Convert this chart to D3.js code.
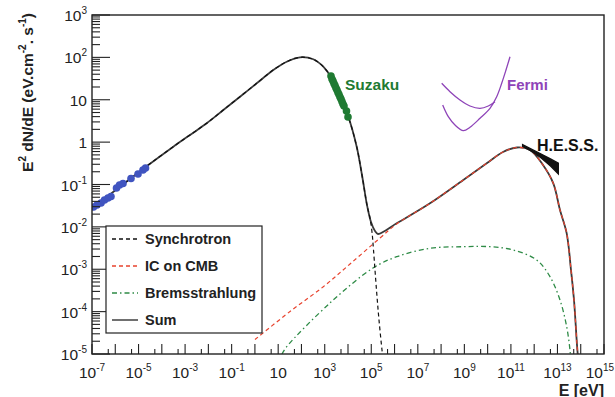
<!DOCTYPE html>
<html><head><meta charset="utf-8">
<script src="https://cdn.jsdelivr.net/npm/d3@7/dist/d3.min.js"></script>
<style>
html,body{margin:0;padding:0;background:#fff;}
svg{display:block;font-family:"Liberation Sans",Arial,Helvetica,sans-serif;}
</style></head>
<body>
<svg id="c" width="615" height="397"></svg>
<script>
// ---------- data (log10 E [eV], log10 E^2 dN/dE) ----------
const sumLogE = [-7.00,-4.723,-3.507,-2.789,-2.072,-1.358,-0.641,0.077,0.790,1.366,1.937,2.509,2.939,3.299,3.656,4.013,4.374,4.601,4.816,4.988,5.160,5.289,6.092,7.523,8.954,9.960,10.660,11.262,11.820,12.379,12.821,13.109,13.397,13.582,13.711,13.840,13.90];
const sumLogF = [-1.566,-0.599,-0.108,0.168,0.444,0.758,1.072,1.388,1.702,1.898,2.002,1.955,1.780,1.506,1.065,0.600,-0.108,-0.776,-1.484,-1.885,-2.097,-2.168,-1.916,-1.444,-0.894,-0.500,-0.233,-0.127,-0.186,-0.540,-0.972,-1.602,-2.152,-3.018,-3.726,-4.788,-5.2];

const synLogE = [-7.00,-4.723,-3.507,-2.789,-2.072,-1.358,-0.641,0.077,0.790,1.366,1.937,2.509,2.939,3.299,3.656,4.013,4.374,4.601,4.816,4.945,5.031,5.096,5.224,5.332,5.461,5.504];
const synLogF = [-1.566,-0.599,-0.108,0.168,0.444,0.758,1.072,1.388,1.702,1.898,2.002,1.955,1.780,1.506,1.065,0.600,-0.108,-0.776,-1.484,-1.791,-2.121,-2.546,-3.490,-4.198,-4.906,-5.094];

const icLogE = [0.004,1.508,2.939,4.086,5.375,6.092,7.523,8.954,9.960,10.660,11.262,11.820,12.379,12.821,13.109,13.397,13.582,13.711,13.840,13.90];
const icLogF = [-4.658,-3.997,-3.412,-2.876,-2.263,-1.932,-1.444,-0.894,-0.500,-0.233,-0.127,-0.186,-0.540,-0.972,-1.602,-2.152,-3.018,-3.726,-4.788,-5.2];

const brLogE = [1.164,1.366,3.226,5.074,6.092,7.523,8.954,10.101,11.102,12.108,12.680,13.109,13.397,13.539,13.56];
const brLogF = [-5.0,-4.828,-3.796,-2.971,-2.704,-2.506,-2.468,-2.468,-2.546,-2.782,-3.176,-3.726,-4.356,-4.906,-5.05];

const radioLogE = [-6.936,-6.785,-6.613,-6.463,-6.313,-6.184,-5.947,-5.818,-5.668,-5.324,-5.023,-4.809,-4.701];
const radioLogF = [-1.531,-1.484,-1.437,-1.366,-1.319,-1.283,-1.083,-1.012,-0.976,-0.858,-0.752,-0.658,-0.611];

const suzakuLogE = [3.269,3.312,3.355,3.398,3.441,3.484,3.527,3.570,3.613,3.656,3.699,3.742,3.785,3.828,3.935,4.000];
const suzakuLogF = [1.560,1.490,1.442,1.383,1.336,1.277,1.230,1.171,1.124,1.065,1.018,0.959,0.900,0.853,0.735,0.593];

const fermiALogE = [8.026,8.383,8.812,9.242,9.672,10.028,10.316];
const fermiALogF = [1.388,1.190,0.994,0.853,0.798,0.853,0.954];
const fermiBLogE = [8.069,8.310,8.597,8.954,9.242,9.672,10.101,10.389,10.604,10.789,10.961];
const fermiBLogF = [0.876,0.600,0.404,0.270,0.350,0.562,0.798,1.072,1.388,1.702,2.016];

const hessLogE = [11.50,11.90,12.30,12.70,13.04];
const hessUpLogF = [-0.056,-0.169,-0.283,-0.396,-0.493];
const hessLoLogF = [-0.103,-0.221,-0.375,-0.563,-0.752];

const yTickExp = [-5,-4,-3,-2,-1,0,1,2,3];
const xLabelExp = [-7,-5,-3,-1,1,3,5,7,9,11,13,15];
const legendItems = ["Synchrotron","IC on CMB","Bremsstrahlung","Sum"];

// ---------- scales ----------
const svg = d3.select("#c");
const X0=92, X1=604, Y0=15, Y1=354;
const xs = d3.scaleLog().domain([1e-7,1e15]).range([X0,X1]);
const ys = d3.scaleLog().domain([1e-5,1e3]).range([Y1,Y0]);
const P = (le,lf)=>le.map((e,i)=>[Math.pow(10,e),Math.pow(10,lf[i])]);

svg.append("clipPath").attr("id","plot").append("rect")
  .attr("x",X0).attr("y",Y0).attr("width",X1-X0).attr("height",Y1-Y0);

const lineC = d3.line().x(d=>xs(d[0])).y(d=>ys(d[1])).curve(d3.curveCatmullRom.alpha(0.5));
const g = svg.append("g").attr("clip-path","url(#plot)");

// curves
g.append("path").attr("d",lineC(P(sumLogE,sumLogF))).attr("fill","none")
  .attr("stroke","#3a3a3a").attr("stroke-width",1.8);
g.append("path").attr("d",lineC(P(brLogE,brLogF))).attr("fill","none")
  .attr("stroke","#2e8b46").attr("stroke-width",1.3).attr("stroke-dasharray","5,3,1.5,3");
g.append("path").attr("d",lineC(P(icLogE,icLogF))).attr("fill","none")
  .attr("stroke","#e8432e").attr("stroke-width",1.2).attr("stroke-dasharray","4,3");
g.append("path").attr("d",lineC(P(synLogE,synLogF))).attr("fill","none")
  .attr("stroke","#111").attr("stroke-width",1.2).attr("stroke-dasharray","4,3");

// Fermi
[[fermiALogE,fermiALogF],[fermiBLogE,fermiBLogF]].forEach(([e,f])=>{
  g.append("path").attr("d",lineC(P(e,f))).attr("fill","none")
    .attr("stroke","#8e44b8").attr("stroke-width",1.3);
});

// HESS butterfly
const hessPts = hessLogE.map((e,i)=>[e,hessUpLogF[i],hessLoLogF[i]]);
g.append("path").attr("d", d3.area()
   .x(d=>xs(Math.pow(10,d[0]))).y0(d=>ys(Math.pow(10,d[2]))).y1(d=>ys(Math.pow(10,d[1])))(hessPts))
  .attr("fill","#111").attr("stroke","#111").attr("stroke-width",1.2);

// points
g.selectAll("circle.r").data(P(radioLogE,radioLogF)).enter().append("circle")
  .attr("cx",d=>xs(d[0])).attr("cy",d=>ys(d[1])).attr("r",3.8).attr("fill","#4054c0");
g.selectAll("circle.s").data(P(suzakuLogE,suzakuLogF)).enter().append("circle")
  .attr("cx",d=>xs(d[0])).attr("cy",d=>ys(d[1])).attr("r",3.8).attr("fill","#1f7a32");

// frame
svg.append("rect").attr("x",X0).attr("y",Y0).attr("width",X1-X0).attr("height",Y1-Y0)
  .attr("fill","none").attr("stroke","#222").attr("stroke-width",1.4);

// y ticks
const yt = svg.append("g").attr("stroke","#222").attr("stroke-width",1.1);
yTickExp.forEach(n=>{
  const y=ys(Math.pow(10,n));
  yt.append("line").attr("x1",X0).attr("x2",X0+18).attr("y1",y).attr("y2",y);
  if(n<3) for(let k=2;k<=9;k++){
    const yy=ys(k*Math.pow(10,n));
    yt.append("line").attr("x1",X0).attr("x2",X0+8).attr("y1",yy).attr("y2",yy);
  }
});
// x ticks
for(let n=-7;n<=15;n++){
  const x=xs(Math.pow(10,n));
  yt.append("line").attr("x1",x).attr("x2",x).attr("y1",Y1).attr("y2",Y1-10);
  if(n<15){ const x5=xs(5*Math.pow(10,n));
    yt.append("line").attr("x1",x5).attr("x2",x5).attr("y1",Y1).attr("y2",Y1-5);}
}

function powLabel(sel,n){
  if(n===0){sel.text("1");return;}
  if(n===1){sel.text("10");return;}
  sel.append("tspan").text("10");
  sel.append("tspan").attr("dy",-7).attr("font-size","10px").text(String(n));
}
const FS="15.5px";
yTickExp.forEach(n=>{
  const t=svg.append("text").attr("x",87).attr("y",ys(Math.pow(10,n))+6)
    .attr("text-anchor","end").attr("font-size",FS).attr("fill","#222");
  powLabel(t,n);
});
xLabelExp.forEach(n=>{
  const last = n===15;
  const t=svg.append("text").attr("x",last?614:xs(Math.pow(10,n))).attr("y",378)
    .attr("text-anchor",last?"end":"middle").attr("font-size",FS).attr("fill","#222");
  powLabel(t,n);
});

// axis titles
svg.append("text").attr("x",604).attr("y",395.5).attr("text-anchor","end")
  .attr("font-size","16px").attr("font-weight","bold").attr("fill","#222").text("E [eV]");
const yt2 = svg.append("text").attr("transform","translate(33,13) rotate(-90)")
  .attr("text-anchor","end").attr("font-size","15.5px").attr("font-weight","bold").attr("fill","#222");
yt2.append("tspan").text("E");
yt2.append("tspan").attr("dy",-7).attr("font-size","10px").text("2");
yt2.append("tspan").attr("dy",7).text(" dN/dE (eV.cm");
yt2.append("tspan").attr("dy",-7).attr("font-size","10px").text("-2");
yt2.append("tspan").attr("dy",7).text(". s");
yt2.append("tspan").attr("dy",-7).attr("font-size","10px").text("-1");
yt2.append("tspan").attr("dy",7).text(")");

// instrument labels
svg.append("text").attr("x",345).attr("y",90).attr("font-size","15.5px").attr("font-weight","bold")
  .attr("fill","#1f7a32").text("Suzaku");
svg.append("text").attr("x",507).attr("y",90).attr("font-size","15px").attr("font-weight","bold")
  .attr("fill","#8e44b8").text("Fermi");
svg.append("text").attr("x",537).attr("y",151).attr("font-size","16px").attr("font-weight","bold")
  .attr("fill","#111").text("H.E.S.S.");

// legend
const lg = svg.append("g");
lg.append("rect").attr("x",106).attr("y",226).attr("width",156).attr("height",107)
  .attr("fill","#fff").attr("stroke","#222").attr("stroke-width",1.2);
const lStyles = [
  {c:"#111",d:"4,3"},{c:"#e8432e",d:"4,3"},{c:"#2e8b46",d:"5,3,1.5,3"},{c:"#222",d:null}];
const lY = [239,266,293,320];
legendItems.forEach((name,i)=>{
  const l=lg.append("line").attr("x1",112).attr("x2",138).attr("y1",lY[i]).attr("y2",lY[i])
    .attr("stroke",lStyles[i].c).attr("stroke-width",1.3);
  if(lStyles[i].d) l.attr("stroke-dasharray",lStyles[i].d);
  lg.append("text").attr("x",145).attr("y",lY[i]+5).attr("font-size","14.5px")
    .attr("font-weight","bold").attr("fill","#222").text(name);
});
</script>
</body></html>
